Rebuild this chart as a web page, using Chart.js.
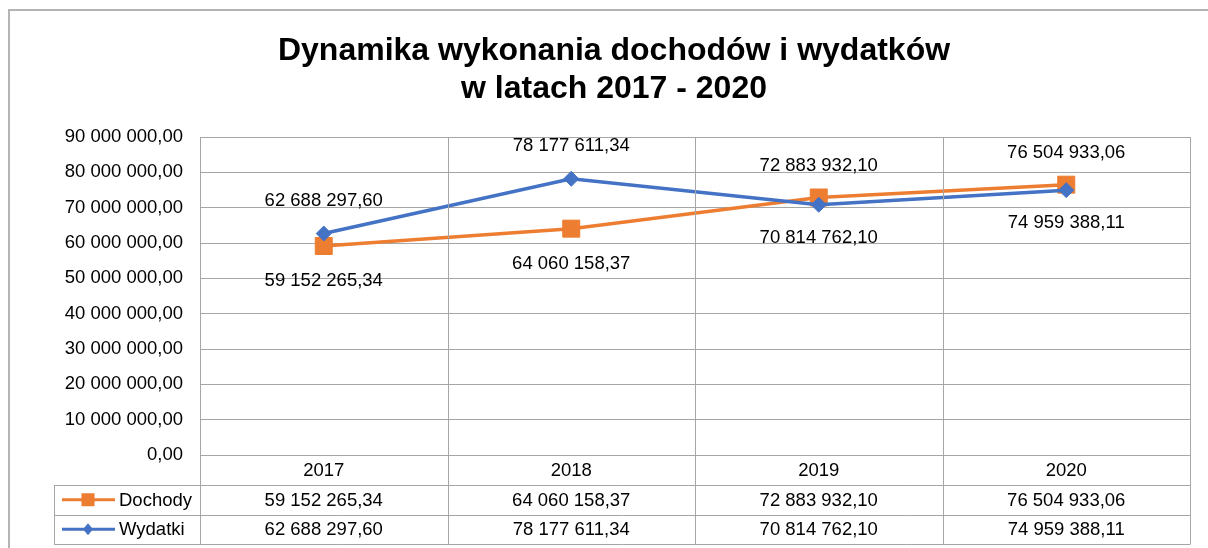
<!DOCTYPE html>
<html>
<head>
<meta charset="utf-8">
<script src="https://cdn.jsdelivr.net/npm/chart.js@4.4.0/dist/chart.umd.min.js"></script>
<style>
html, body { margin: 0; padding: 0; background: #fff; }
#wrap { width: 1208px; height: 548px; position: relative; }
</style>
</head>
<body>
<div id="wrap"><canvas id="wykres" width="1208" height="548"></canvas></div>
<script>
// Dane wykresu
const lata = ['2017', '2018', '2019', '2020'];
const dochody = [59152265.34, 64060158.37, 72883932.10, 76504933.06];
const wydatki = [62688297.60, 78177611.34, 70814762.10, 74959388.11];
const nazwySerii = ['Dochody', 'Wydatki'];
const tytul = ['Dynamika wykonania dochodów i wydatków', 'w latach 2017 - 2020'];
const osYmin = 0;
const osYmax = 90000000;
const osYkrok = 10000000;

const FONT = '"Liberation Sans", Arial, sans-serif';
const POMARANCZ = '#ED7D31';
const NIEBIESKI = '#4472C4';
const SIATKA = '#a6a6a6';

// Format liczby: 90 000 000,00
function formatuj(v) {
    const czesci = Math.abs(v).toFixed(2).split('.');
    return czesci[0].replace(/\B(?=(\d{3})+(?!\d))/g, ' ') + ',' + czesci[1];
}

// Ramka i tytuł
const ramkaPlugin = {
    id: 'ramka',
    beforeDraw(chart) {
        const ctx = chart.ctx;
        ctx.save();
        ctx.fillStyle = '#fff';
        ctx.fillRect(0, 0, chart.width, chart.height);
        ctx.strokeStyle = '#b4b4b4';
        ctx.lineWidth = 2;
        ctx.strokeRect(9, 10, 1400, 1400);
        ctx.restore();
    },
    afterDraw(chart) {
        const ctx = chart.ctx;
        ctx.save();
        ctx.fillStyle = '#000';
        ctx.font = 'bold 32px ' + FONT;
        ctx.textAlign = 'center';
        ctx.textBaseline = 'middle';
        ctx.fillText(tytul[0], 614, 51);
        ctx.fillText(tytul[1], 614, 89);
        ctx.restore();
    }
};

// Etykiety danych
const etykietyPlugin = {
    id: 'etykiety',
    afterDatasetsDraw(chart) {
        const ctx = chart.ctx;
        const y = chart.scales.y;
        const x = chart.scales.x;
        ctx.save();
        ctx.fillStyle = '#000';
        ctx.font = '18.5px ' + FONT;
        ctx.textAlign = 'center';
        ctx.textBaseline = 'middle';
        lata.forEach(function(rok, i) {
            const px = x.getPixelForValue(i);
            const gora = dochody[i] > wydatki[i];
            ctx.fillText(formatuj(dochody[i]), px, y.getPixelForValue(dochody[i]) + (gora ? -32 : 35));
            ctx.fillText(formatuj(wydatki[i]), px, y.getPixelForValue(wydatki[i]) + (gora ? 33 : -33));
        });
        ctx.restore();
    }
};

// Tabela danych pod wykresem
const tabelaPlugin = {
    id: 'tabela',
    afterDraw(chart) {
        const ctx = chart.ctx;
        const a = chart.chartArea;
        const x = chart.scales.x;
        const pol = (x.getPixelForValue(1) - x.getPixelForValue(0)) / 2;
        const lewaTab = 54;
        const wiersz1 = a.bottom + 30;
        const wiersz2 = wiersz1 + 29.5;
        const dol = wiersz2 + 29.5;

        ctx.save();
        ctx.strokeStyle = SIATKA;
        ctx.lineWidth = 1;
        ctx.beginPath();
        // linie pionowe
        for (let i = 0; i <= lata.length; i++) {
            const px = Math.round(x.getPixelForValue(0) - pol + i * 2 * pol) + 0.5;
            ctx.moveTo(px, a.top);
            ctx.lineTo(px, dol);
        }
        ctx.moveTo(lewaTab + 0.5, wiersz1);
        ctx.lineTo(lewaTab + 0.5, dol);
        // linie poziome
        [wiersz1, wiersz2, dol].forEach(function(py) {
            const yy = Math.round(py) + 0.5;
            ctx.moveTo(lewaTab, yy);
            ctx.lineTo(Math.round(a.right) + 0.5, yy);
        });
        ctx.stroke();

        ctx.fillStyle = '#000';
        ctx.font = '18.5px ' + FONT;
        ctx.textAlign = 'center';
        ctx.textBaseline = 'middle';
        lata.forEach(function(rok, i) {
            const px = x.getPixelForValue(i);
            ctx.fillText(rok, px, (a.bottom + wiersz1) / 2 + 1);
            ctx.fillText(formatuj(dochody[i]), px, (wiersz1 + wiersz2) / 2 + 1);
            ctx.fillText(formatuj(wydatki[i]), px, (wiersz2 + dol) / 2 + 1);
        });

        // legenda
        const kolory = [POMARANCZ, NIEBIESKI];
        [(wiersz1 + wiersz2) / 2, (wiersz2 + dol) / 2].forEach(function(cy, k) {
            ctx.strokeStyle = kolory[k];
            ctx.fillStyle = kolory[k];
            ctx.lineWidth = 3;
            ctx.beginPath();
            ctx.moveTo(lewaTab + 8, cy);
            ctx.lineTo(lewaTab + 61, cy);
            ctx.stroke();
            const mx = lewaTab + 34;
            ctx.beginPath();
            if (k === 0) {
                ctx.rect(mx - 6.5, cy - 6.5, 13, 13);
            } else {
                ctx.moveTo(mx, cy - 6);
                ctx.lineTo(mx + 5, cy);
                ctx.lineTo(mx, cy + 6);
                ctx.lineTo(mx - 5, cy);
                ctx.closePath();
            }
            ctx.fill();
            ctx.fillStyle = '#000';
            ctx.textAlign = 'left';
            ctx.fillText(nazwySerii[k], lewaTab + 65, cy + 1);
        });
        ctx.restore();
    }
};

const ctx = document.getElementById('wykres').getContext('2d');
new Chart(ctx, {
    type: 'line',
    data: {
        labels: lata,
        datasets: [
            {
                label: nazwySerii[0],
                data: dochody,
                order: 2,
                borderColor: POMARANCZ,
                backgroundColor: POMARANCZ,
                borderWidth: 3.5,
                pointStyle: 'rect',
                pointRadius: 12,
                pointBorderWidth: 1,
                tension: 0
            },
            {
                label: nazwySerii[1],
                data: wydatki,
                order: 1,
                borderColor: NIEBIESKI,
                backgroundColor: NIEBIESKI,
                borderWidth: 3.5,
                pointStyle: 'rectRot',
                pointRadius: 7.5,
                pointBorderWidth: 1,
                tension: 0
            }
        ]
    },
    options: {
        responsive: false,
        animation: false,
        devicePixelRatio: 1,
        layout: {
            padding: { top: 137, bottom: 93, left: 0, right: 18 }
        },
        plugins: {
            legend: { display: false },
            title: { display: false },
            tooltip: { enabled: false }
        },
        scales: {
            x: {
                offset: true,
                afterFit: function(scale) { scale.height = 0; },
                grid: { display: false },
                border: { display: false },
                ticks: { display: false }
            },
            y: {
                min: osYmin,
                max: osYmax,
                afterFit: function(scale) { scale.width = 200; },
                grid: { color: SIATKA, lineWidth: 1, drawTicks: false },
                border: { display: false },
                ticks: {
                    stepSize: osYkrok,
                    padding: 17,
                    color: '#000',
                    font: { family: FONT, size: 18.5 },
                    callback: function(v) { return formatuj(v); }
                }
            }
        }
    },
    plugins: [ramkaPlugin, etykietyPlugin, tabelaPlugin]
});
</script>
</body>
</html>
